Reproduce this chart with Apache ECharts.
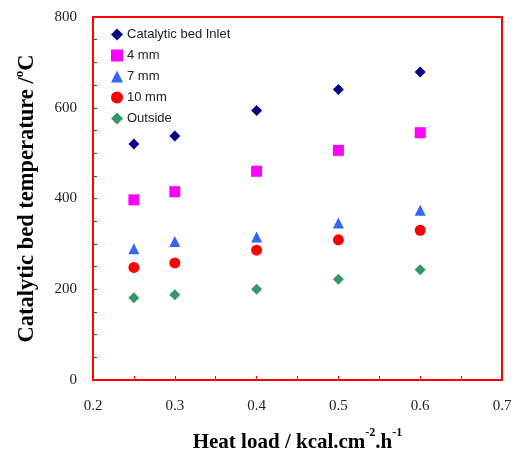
<!DOCTYPE html>
<html>
<head>
<meta charset="utf-8">
<script src="https://cdn.jsdelivr.net/npm/echarts@6/dist/echarts.min.js"></script>
<style>
    html, body { margin: 0; padding: 0; background: #fff; }
    #chart { width: 514px; height: 455px; }
</style>
</head>
<body>
<div id="chart"></div>
<script>
// heat load values (x)
var heatLoad = [0.25, 0.3, 0.4, 0.5, 0.6];
// temperatures
var inletTemp = [520, 538, 594, 640, 679];
var mm4Temp = [397, 415, 460, 506, 545];
var mm7Temp = [289, 305, 315, 346, 374];
var mm10Temp = [248, 258, 286, 309, 330];
var outsideTemp = [181, 188, 200, 222, 243];
var seriesNames = ['Catalytic bed Inlet', '4 mm', '7 mm', '10 mm', 'Outside'];

function pairs(ys) {
    var out = [];
    for (var i = 0; i < heatLoad.length; i++) {
        out.push([heatLoad[i], ys[i]]);
    }
    return out;
}

var chart = echarts.init(document.getElementById('chart'));
var serif = 'Liberation Serif';
var red = '#ff0000';

// 轴标题 rich 样式（上标）
function titleRich(size, supSize) {
    return {
        a: { fontFamily: serif, fontSize: size, fontWeight: 'bold', color: '#000', lineHeight: 26, verticalAlign: 'bottom' },
        s: { fontFamily: serif, fontSize: supSize, fontWeight: 'bold', color: '#000', lineHeight: 26, verticalAlign: 'top' }
    };
}

var option = {
    animation: false,
    grid: {
        left: 93, right: 12, top: 17, bottom: 75,
        outerBoundsMode: 'none',
        show: true, borderColor: red, borderWidth: 2
    },
    legend: {
        orient: 'vertical',
        left: 106, top: 23,
        itemGap: 8,
        itemWidth: 12, itemHeight: 12,
        textStyle: { fontFamily: 'Liberation Sans', fontSize: 13, color: '#222', padding: [0, 0, 0, -1] },
        data: [
            { name: seriesNames[0], icon: 'diamond' },
            { name: seriesNames[1], icon: 'rect' },
            { name: seriesNames[2], icon: 'triangle' },
            { name: seriesNames[3], icon: 'circle' },
            { name: seriesNames[4], icon: 'diamond' }
        ]
    },
    xAxis: {
        type: 'value', min: 0.2, max: 0.7, interval: 0.05,
        name: '{a|Heat load / kcal.cm}{s|-2}{a|.h}{s|-1}',
        nameLocation: 'middle', nameGap: 47,
        nameTextStyle: { rich: titleRich(21, 12) },
        axisLine: { lineStyle: { color: red, width: 2 } },
        axisTick: { inside: true, length: 4, lineStyle: { color: red } },
        axisLabel: {
            fontFamily: serif, fontSize: 15, color: '#222', margin: 19,
            formatter: function (v) { return Math.round(v * 100) % 10 === 0 ? v.toFixed(1) : ''; }
        },
        splitLine: { show: false }
    },
    yAxis: {
        type: 'value', min: 0, max: 800, interval: 50,
        name: '{a|Catalytic bed temperature /}{s|o}{a|C}',
        nameLocation: 'middle', nameGap: 54, nameRotate: 90,
        nameTextStyle: { rich: titleRich(22.5, 13) },
        axisLine: { lineStyle: { color: red, width: 2 } },
        axisTick: { inside: true, length: 4, lineStyle: { color: red } },
        axisLabel: {
            fontFamily: serif, fontSize: 15, color: '#222', margin: 16,
            formatter: function (v) { return v % 200 === 0 ? String(v) : ''; }
        },
        splitLine: { show: false }
    },
    series: [
        { name: seriesNames[0], type: 'scatter', symbol: 'diamond', symbolSize: 11, itemStyle: { color: '#000080', opacity: 1 }, data: pairs(inletTemp) },
        { name: seriesNames[1], type: 'scatter', symbol: 'rect', symbolSize: 11, itemStyle: { color: '#ff00ff', opacity: 1 }, data: pairs(mm4Temp) },
        { name: seriesNames[2], type: 'scatter', symbol: 'triangle', symbolSize: 11, itemStyle: { color: '#3366ff', opacity: 1 }, data: pairs(mm7Temp) },
        { name: seriesNames[3], type: 'scatter', symbol: 'circle', symbolSize: 11, itemStyle: { color: '#ff0000', opacity: 1 }, data: pairs(mm10Temp) },
        { name: seriesNames[4], type: 'scatter', symbol: 'diamond', symbolSize: 11, itemStyle: { color: '#339966', opacity: 1 }, data: pairs(outsideTemp) }
    ]
};
chart.setOption(option);
</script>
</body>
</html>
